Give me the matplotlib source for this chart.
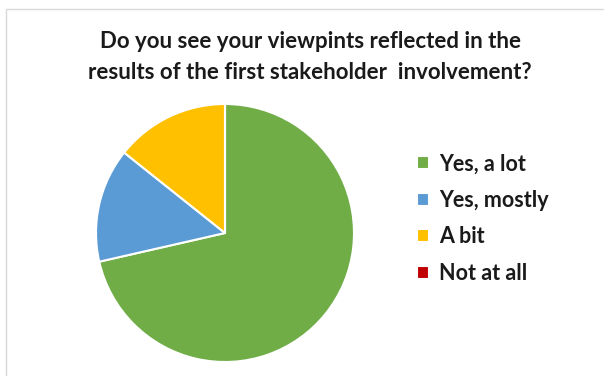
import matplotlib.pyplot as plt
from matplotlib.patches import Rectangle


plt.rcParams['font.family'] = ['Lato', 'DejaVu Sans']

labels  = ['Yes, a lot', 'Yes, mostly', 'A bit', 'Not at all']
answers = [5, 1, 1, 0]
colors  = ['#70AD47', '#5B9BD5', '#FFC000', '#C00000']

title = 'Do you see your viewpints reflected in the\nresults of the first stakeholder  involvement?'


fig = plt.figure(figsize=(6.04, 3.76), dpi=100)

# thin grey frame of the chart area
fig.patches.append(Rectangle((6/604, -0.1), 1.2, (376 - 9)/376 + 0.1,
                             transform=fig.transFigure, fill=False,
                             edgecolor='#D9D9D9', linewidth=1))

fig.text(310/604, 1 - 57/376, title, ha='center', va='center',
         fontsize=16, fontweight='bold', color='#1a1a1a', linespacing=1.55)

# pie centred at (225, 233) px, radius ~129 px
r = 129
ax = fig.add_axes([(225 - r)/604, 1 - (233 + r)/376, 2*r/604, 2*r/376])
wedges, _ = ax.pie(answers, colors=colors, startangle=90, counterclock=False,
                   wedgeprops=dict(edgecolor='white', linewidth=1.5))
ax.set_aspect('auto')
ax.set_xlim(-1, 1)
ax.set_ylim(-1, 1)

leg = fig.legend(wedges, labels, loc='upper left',
                 bbox_to_anchor=(398/604, 1 - 134/376),
                 frameon=False, handlelength=0.55, handleheight=0.55,
                 handletextpad=0.45, labelspacing=0.72,
                 prop=dict(size=15.5, weight='bold'))
for t in leg.get_texts():
    t.set_color('#1a1a1a')

fig.savefig('out.png', dpi=100)
